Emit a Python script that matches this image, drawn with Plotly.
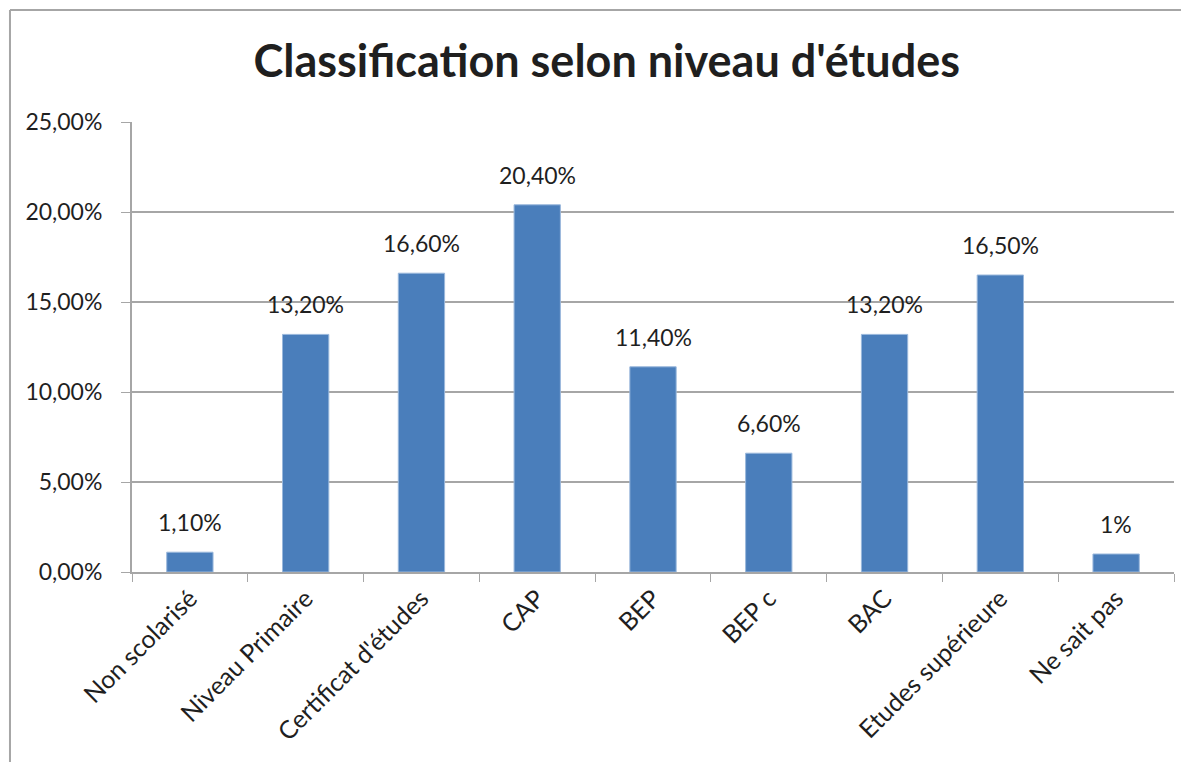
import plotly.graph_objects as go

categories = ["Non scolarisé", "Niveau Primaire", "Certificat d'études", "CAP", "BEP",
              "BEP c", "BAC", "Etudes supérieure", "Ne sait pas"]
values = [0.011, 0.132, 0.166, 0.204, 0.114, 0.066, 0.132, 0.165, 0.01]
labels = ["1,10%", "13,20%", "16,60%", "20,40%", "11,40%", "6,60%", "13,20%", "16,50%", "1%"]
y_ticks = [0, 0.05, 0.10, 0.15, 0.20, 0.25]

grey = "#a6a6a6"
txt = "#1f1f1f"

fig = go.Figure()

# barres
fig.add_trace(go.Bar(
    x=categories,
    y=values,
    width=0.4,
    marker_color="#4a7ebb",
    marker_line=dict(color="#9ab8dc", width=1),
    hoverinfo="skip"
))

# etiquettes de valeurs au-dessus des barres
for c, v, t in zip(categories, values, labels):
    fig.add_annotation(x=c, y=v, text=t, showarrow=False, yanchor="bottom",
                       yshift=14, font=dict(family="Lato", size=23, color=txt))

# cadre du graphique (coupé à droite et en bas)
fig.add_shape(type="line", xref="paper", yref="paper", x0=-0.1171, x1=-0.1171,
              y0=1.2489, y1=-0.45, line=dict(color=grey, width=2))
fig.add_shape(type="line", xref="paper", yref="paper", x0=-0.1171, x1=1.05,
              y0=1.2489, y1=1.2489, line=dict(color=grey, width=2))

# la page a une marge de 8px : on compense
fig.update_layout(
    width=1181, height=754,
    margin=dict(l=124, r=15, t=114, b=190),
    paper_bgcolor="white", plot_bgcolor="white",
    separators=", ",
    showlegend=False,
    font=dict(family="Lato", size=23, color=txt),
    title=dict(text="<b>Classification selon niveau d'études</b>",
               x=0.507, xanchor="center", y=0.93, yanchor="middle",
               font=dict(family="Lato", size=45, color=txt)),
    xaxis=dict(type="category", tickangle=-45, ticks="outside", tickson="boundaries",
               ticklen=8, tickcolor=grey, showline=True, linecolor=grey, linewidth=2,
               showgrid=False, tickfont=dict(size=25, color=txt)),
    yaxis=dict(range=[0, 0.25], tickvals=y_ticks, tickformat=".2%", ticks="outside",
               ticklen=9, tickcolor=grey, showline=True, linecolor=grey, linewidth=2,
               showgrid=True, gridcolor=grey, gridwidth=1.5, zeroline=False,
               ticklabelstandoff=14, tickfont=dict(size=23, color=txt))
)

fig.write_html("out.html")
